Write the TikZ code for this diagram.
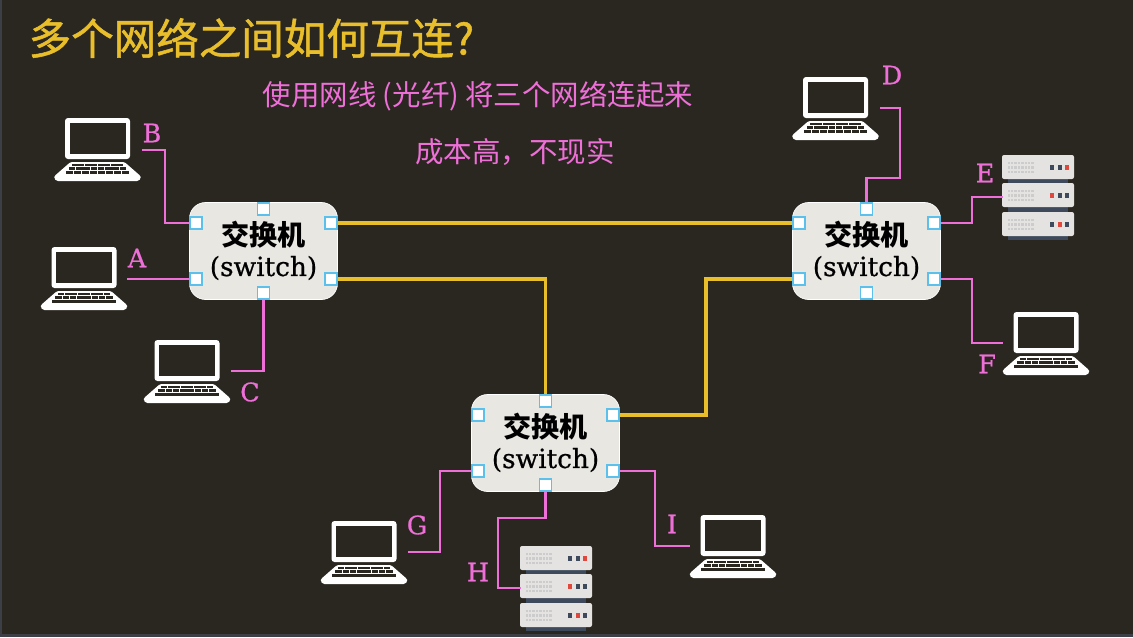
\documentclass[tikz,border=0pt]{standalone}
\usepackage{fontspec}
\setmainfont{DejaVu Serif}
\newfontfamily\slab[FakeBold=.7]{DejaVu Serif}
\newfontfamily\cjk{Noto Sans CJK SC}
\newfontfamily\cjkheavy[FakeBold=1.2]{Noto Sans CJK SC}
\usetikzlibrary{positioning}
\definecolor{background}{HTML}{2A2720}
\definecolor{edgeblue}{HTML}{3C4046}
\definecolor{wirepink}{HTML}{EE6FD8}
\definecolor{wireyellow}{HTML}{E9BE2B}
\definecolor{switchgrey}{HTML}{E8E7E2}
\definecolor{portblue}{HTML}{5BC0EB}
\definecolor{rackgrey}{HTML}{E4E3E1}
\definecolor{rackdark}{HTML}{3E4A5C}
\definecolor{rackred}{HTML}{E0483E}
\tikzset{
  switchbox/.style={draw=white, fill=switchgrey, rounded corners=.32cm, minimum width=2.96cm, minimum height=1.94cm, align=center, inner sep=0pt},
  portbox/.style={draw=portblue, fill=white, line width=.9pt, minimum size=.24cm, inner sep=0pt},
  pinkwire/.style={draw=wirepink, line width=1.6pt},
  yellowwire/.style={draw=wireyellow, line width=2pt},
  letter/.style={text=wirepink, font=\fontsize{14.5}{18}\selectfont\slab},
  notetext/.style={text=wirepink, font=\fontsize{16.2}{18}\selectfont\cjk},
  laptop/.pic={
    \fill[white, rounded corners=.06cm] (-32.5,0) rectangle (32.5,41);
    \fill[background] (-28,4.5) rectangle (28,36);
    \fill[white, rounded corners=.03cm] (-27,44) -- (27,44) -- (43,58) -- (43.5,60) -- (41,63) -- (-41,63) -- (-43.5,60) -- (-43,58) -- cycle;
    \foreach \row/\half in {45.5/26, 49.2/29, 52.9/32} {
      \foreach \k in {0,...,7} {
        \fill[background] ({-\half+\k*\half/4+.4},\row) rectangle ({-\half+(\k+1)*\half/4-.4},\row+2.9);
      }
    }
  },
  pics/rackunit/.style args={#1/#2/#3}{code={
    \fill[rackgrey, rounded corners=.04cm] (0,0) rectangle (72,24);
    \foreach \dy in {8,12.5,17} {
      \foreach \dx in {0,...,7} {
        \fill[gray!40] (5.5+\dx*3.4,\dy-1.2) rectangle ++(2.4,2.4);
      }
    }
    \fill[#1] (48,10) rectangle ++(4,5);
    \fill[#2] (55.5,10) rectangle ++(4,5);
    \fill[#3] (63,10) rectangle ++(4,5);
  }},
}
\begin{document}
\begin{tikzpicture}[x=.02cm, y=-.02cm]
  \useasboundingbox (0,0) rectangle (1133,637);
  \fill[edgeblue] (0,0) rectangle (1133,637);
  \fill[background] (2,0) rectangle (1133,634);

  % title and notes
  \node[anchor=west, text=wireyellow, font=\fontsize{24.2}{28}\selectfont\cjkheavy] (title) at (22.5,38) {多个网络之间如何互连?};
  \node[notetext] (noteA) at (478,96) {使用网线 (光纤) 将三个网络连起来};
  \node[notetext] (noteB) at (515,152) {成本高，不现实};

  % switches and their ports
  \foreach \sw/\px/\py in {swA/263.5/251, swB/866.5/251, swC/545.5/443} {
    \node[switchbox] (\sw) at (\px,\py) {};
    \node[font=\fontsize{16}{19}\selectfont\cjk\bfseries] (\sw-cn) at (\px,\py-16) {交换机};
    \node[font=\fontsize{15}{18}\selectfont\slab] (\sw-en) at (\px,\py+17) {(switch)};
    \node[portbox] (\sw-t) at (\px,\py-42) {};
    \node[portbox] (\sw-b) at (\px,\py+42) {};
    \node[portbox] (\sw-lu) at (\px-67.5,\py-28) {};
    \node[portbox] (\sw-ll) at (\px-67.5,\py+28) {};
    \node[portbox] (\sw-ru) at (\px+67.5,\py-28) {};
    \node[portbox] (\sw-rl) at (\px+67.5,\py+28) {};
  }

  % laptops
  \pic at (97.5,118) {laptop};
  \pic at (84,247) {laptop};
  \pic at (187,340) {laptop};
  \pic at (835.5,77) {laptop};
  \pic at (1046,312) {laptop};
  \pic at (364,521) {laptop};
  \pic at (733,515) {laptop};

  % server racks
  \foreach \rx/\ry in {1002/155, 520/546} {
    \fill[rackdark] (\rx+6,\ry+20) rectangle (\rx+66,\ry+85);
    \pic at (\rx,\ry) {rackunit={rackdark/rackdark/rackred}};
    \pic at (\rx,\ry+28) {rackunit={rackred/rackdark/rackdark}};
    \pic at (\rx,\ry+57) {rackunit={rackdark/rackred/rackdark}};
  }

  % free wire ends
  \coordinate (endA) at (127,279);
  \coordinate (endB) at (142,150);
  \coordinate (endC) at (231,371);
  \coordinate (endD) at (880,108);
  \coordinate (endE) at (1003,197);
  \coordinate (endF) at (1003,343);
  \coordinate (endG) at (408,552);
  \coordinate (endH) at (521,588);
  \coordinate (endI) at (690,546);

  % host wires
  \draw[pinkwire] (endA) -- (swA-ll);
  \draw[pinkwire] (endB) -| (165,223) -- (swA-lu);
  \draw[pinkwire] (swA-b) |- (endC);
  \draw[pinkwire] (endD) -| (900,178) -| (swB-t);
  \draw[pinkwire] (swB-ru) -| (972,197) -- (endE);
  \draw[pinkwire] (swB-rl) -| (972,343) -- (endF);
  \draw[pinkwire] (swC-ll) -| (440,552) -- (endG);
  \draw[pinkwire] (swC-b) |- (498,518) |- (endH);
  \draw[pinkwire] (swC-rl) -| (655,546) -- (endI);

  % links between switches
  \draw[yellowwire] (swA-ru) -- (swB-lu);
  \draw[yellowwire] (swA-rl) -| (swC-t);
  \draw[yellowwire] (swC-ru) -| (706,279) -- (swB-ll);

  % host letters
  \node[letter] (labA) at (137,258) {A};
  \node[letter] (labB) at (152,133) {B};
  \node[letter] (labC) at (250,392) {C};
  \node[letter] (labD) at (892,75) {D};
  \node[letter] (labE) at (985,173) {E};
  \node[letter] (labF) at (987,364) {F};
  \node[letter] (labG) at (417,525) {G};
  \node[letter] (labH) at (478,572) {H};
  \node[letter] (labI) at (672,524) {I};
\end{tikzpicture}
\end{document}
